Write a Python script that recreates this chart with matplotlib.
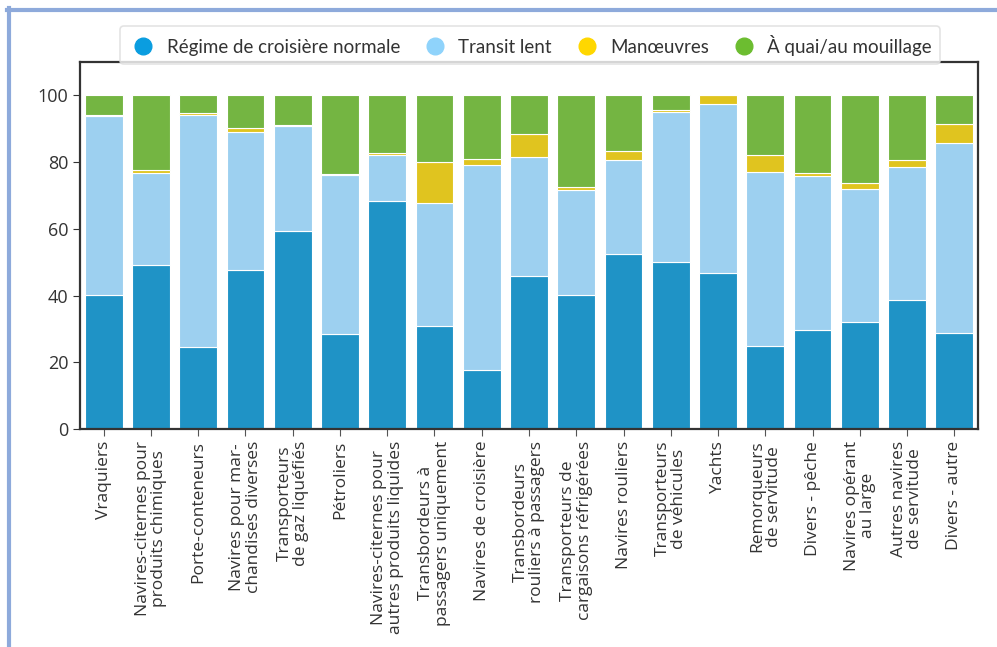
import matplotlib
matplotlib.use("Agg")
import matplotlib.pyplot as plt
import numpy as np
from matplotlib.lines import Line2D

categories = [
    "Vraquiers",
    "Navires-citernes pour\nproduits chimiques",
    "Porte-conteneurs",
    "Navires pour mar-\nchandises diverses",
    "Transporteurs\nde gaz liquéfiés",
    "Pétroliers",
    "Navires-citernes pour\nautres produits liquides",
    "Transbordeurs à\npassagers uniquement",
    "Navires de croisière",
    "Transbordeurs\nrouliers à passagers",
    "Transporteurs de\ncargaisons réfrigérées",
    "Navires rouliers",
    "Transporteurs\nde véhicules",
    "Yachts",
    "Remorqueurs\nde servitude",
    "Divers - pêche",
    "Navires opérant\nau large",
    "Autres navires\nde servitude",
    "Divers - autre",
]

series_names = ["Régime de croisière normale", "Transit lent", "Manœuvres", "À quai/au mouillage"]

croisiere = [40.1, 49.1, 24.6, 47.6, 59.2, 28.6, 68.2, 30.9, 17.8, 46.0, 40.3, 52.4, 50.2, 46.9, 24.8, 29.6, 32.1, 38.8, 28.9]
transit   = [53.7, 27.6, 69.4, 41.4, 31.6, 47.4, 14.0, 36.8, 61.4, 35.5, 31.4, 28.2, 44.9, 50.4, 52.1, 46.1, 39.8, 39.7, 56.7]
manoeuvres = [0.4, 1.0, 0.6, 1.1, 0.2, 0.5, 0.6, 12.4, 1.7, 6.8, 0.8, 2.8, 0.6, 2.7, 5.1, 1.0, 1.8, 2.0, 5.7]
quai = [round(100 - a - b - c, 1) for a, b, c in zip(croisiere, transit, manoeuvres)]

bar_colors = ["#1f93c6", "#9dd0f0", "#e0c41f", "#74b542"]
legend_colors = ["#0a9de0", "#8fd3fb", "#ffd700", "#6cbd30"]

plt.rcParams["font.family"] = ["Open Sans", "DejaVu Sans"]

fig = plt.figure(figsize=(9.97, 6.47), dpi=100)
ax = fig.add_axes([80/997, 1-429/647, 898/997, 367/647])

x = np.arange(len(categories))
bottom = np.zeros(len(categories))
for vals, col in zip([croisiere, transit, manoeuvres, quai], bar_colors):
    v = np.array(vals)
    ax.bar(x, v, width=0.8, bottom=bottom, color=col, edgecolor="white", linewidth=0.8)
    bottom += v

ax.set_xlim(-0.5, len(categories) - 0.5)
ax.set_ylim(0, 110)
ax.set_yticks([0, 20, 40, 60, 80, 100])
ax.set_xticks(x)
ax.set_xticklabels(categories, rotation=90, ha="center", va="top", fontsize=12.5, color="#333333", linespacing=1.05)
ax.tick_params(axis="y", labelsize=13, labelcolor="#333333", direction="out", length=5, color="#333333")
ax.tick_params(axis="x", direction="out", length=5, color="#555555")
for s in ax.spines.values():
    s.set_color("#333333")
    s.set_linewidth(1.6)

handles = [Line2D([], [], marker="o", linestyle="none", markersize=12, markerfacecolor=c, markeredgecolor=c) for c in legend_colors]
leg = ax.legend(handles, series_names, loc="upper center", bbox_to_anchor=((530 - 80) / 898, 1 + (62 - 17) / 367), ncol=4,
                frameon=True, prop={"family": ["Lato", "DejaVu Sans"], "size": 13.5},
                handlelength=1.6, handletextpad=0.45, columnspacing=1.05, borderpad=0.45, fancybox=True)
leg.get_frame().set_edgecolor("#dddddd")
leg.get_frame().set_linewidth(1.2)
for t in leg.get_texts():
    t.set_color("#333333")

# decorative frame (left and top lines)
frame_col = "#8eaadb"
fig.add_artist(Line2D([8.5/997, 8.5/997], [0, 1-8/647], transform=fig.transFigure, color=frame_col, lw=3))
fig.add_artist(Line2D([7/997, 995/997], [1-9.5/647, 1-9.5/647], transform=fig.transFigure, color=frame_col, lw=3))

fig.savefig("out.png", dpi=100)
